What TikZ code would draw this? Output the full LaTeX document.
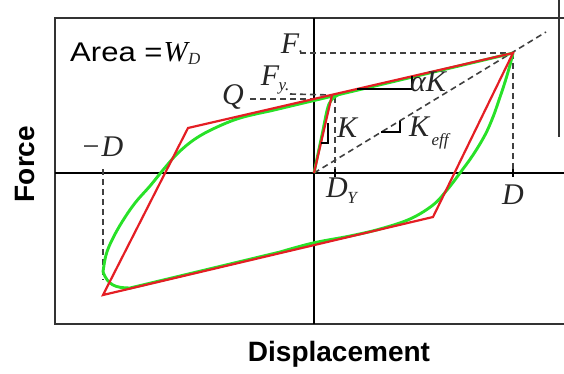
\documentclass[tikz,border=0pt]{standalone}
\usepackage{fontspec}
\usepackage{graphicx}
\setmainfont{Liberation Sans}
\newfontfamily\tms{Liberation Serif}
\definecolor{hred}{RGB}{228,30,36}
\definecolor{hgreen}{RGB}{40,225,40}
\begin{document}
\begin{tikzpicture}[x=1pt,y=-1pt,
  frame/.style={line width=2pt, draw=black!80},
  axis/.style={line width=1.4pt, draw=black},
  dsh/.style={line width=1.6pt, draw=black!75, dash pattern=on 6pt off 4pt},
  redl/.style={line width=2.2pt, draw=hred, line join=miter},
  greenl/.style={line width=2.9pt, draw=hgreen, line join=round},
  thin/.style={line width=1.3pt, draw=black},
  lab/.style={font=\fontsize{30}{30}\tms\itshape, inner sep=0pt, text=black!85},
  sub/.style={font=\fontsize{17}{17}\tms\itshape, inner sep=0pt, text=black!85},
  ttl/.style={font=\fontsize{28}{28}\selectfont\bfseries, inner sep=0pt}]
\useasboundingbox (0,0) rectangle (564,374);
% frame
\coordinate (TL) at (55,18);
\coordinate (TR) at (564,18);
\coordinate (BL) at (55,324);
\coordinate (BR) at (564,324);
\coordinate (RT) at (559,0);
\coordinate (RB) at (559,137);
\draw[frame] (TR) -- (TL) -- (BL) -- (BR);
\draw[frame] (RT) -- (RB);
% axes
\coordinate (O) at (314,173);
\coordinate (AT) at (314,18);
\coordinate (AB) at (314,324);
\coordinate (AL) at (55,173);
\coordinate (AR) at (564,173);
\draw[axis] (AT) -- (AB);
\draw[axis] (AL) -- (AR);
% key points
\coordinate (Y) at (332,95);
\coordinate (P) at (513,53);
\coordinate (R) at (433,217);
\coordinate (N) at (103,295);
\coordinate (L) at (188,128);
% dashed lines
\coordinate (Fs) at (300,53);
\coordinate (Dx) at (513,177);
\coordinate (DYt) at (335,97);
\coordinate (DYb) at (335,177);
\coordinate (mDt) at (103,169);
\coordinate (mDb) at (103,280);
\coordinate (Qs) at (250,99);
\coordinate (Qe) at (314,99);
\coordinate (Fys) at (290,94);
\coordinate (Ke) at (546,32);
\draw[dsh] (Fs) -- (P);
\draw[dsh] (P) -- (Dx);
\draw[dsh] (DYt) -- (DYb);
\draw[dsh] (mDt) -- (mDb);
\draw[dsh] (Qs) -- (Qe);
\draw[dsh] (Fys) -- (Y);
\draw[dsh] (O) -- (Ke);
% green smooth hysteresis
\draw[greenl] plot[smooth, tension=0.6] coordinates {(103,272) (106,255) (112,240) (122,222) (135,203) (150,186) (163,170) (178,153) (195,139) (215,128) (240,118) (270,111)} -- (505,55) -- (P);
\draw[greenl] plot[smooth, tension=0.6] coordinates {(P) (510,65) (505,82) (499,100) (493,117) (485,135) (473,155) (460,173) (447,190) (433,205) (410,219) (380,229) (350,236) (313,243) (280,252)} -- (130,288) .. controls (115,288) and (108,285) .. (103,272);
\draw[greenl] plot[smooth, tension=0.6] coordinates {(O) (322,135) (329,104) (338,95)};
% red bilinear
\draw[redl] (O) -- (Y);
\draw[redl] (N) -- (L) -- (P) -- (R) -- cycle;
% slope triangles
\coordinate (a1) at (357,89);
\coordinate (a2) at (412,89);
\coordinate (a3) at (412,76.5);
\draw[thin] (a1) -- (a2) -- (a3);
\coordinate (k1) at (321,143);
\coordinate (k2) at (328,143);
\coordinate (k3) at (328,123);
\draw[thin] (k1) -- (k2) -- (k3);
\coordinate (e1) at (381,132);
\coordinate (e2) at (400,132);
\coordinate (e3) at (400,121);
\draw[thin] (e1) -- (e2) -- (e3);
% ticks
\coordinate (t1) at (513,169);
\coordinate (t2) at (335,169);
\draw[thin] (t1) -- (Dx);
\draw[thin] (t2) -- (DYb);
% labels
\node[inner sep=0pt, anchor=west] (area) at (70,52) {\scalebox{1.15}[1]{\fontsize{27}{27}\selectfont Area =}\hspace{1pt}{\fontsize{29}{29}\tms\itshape W}};
\node[sub, anchor=west] (areasub) at (area.east) [yshift=-7pt] {D};
\node[lab] (Flab) at (290,44) {F};
\node[sub] (Fdot) at (301,52) {.};
\node[lab] (Fy) at (270,76) {F};
\node[sub] (Fysub) at (284,88) {y.};
\node[lab] (Qlab) at (233,97) {Q};
\node[lab] (mD) at (103,147) {{\upshape −}\hspace{2pt}D};
\node[lab] (DY) at (337,188) {D};
\node[sub] (DYsub) at (352,198) {Y};
\node[lab] (Dlab) at (513,195) {D};
\node[lab] (Klab) at (347,128) {K};
\node[lab] (Kef) at (419,127) {K};
\node[sub] (Kefsub) at (440,141) {eff};
\node[lab] (aK) at (428,82) {αK};
\node[ttl, rotate=90] (force) at (25,164) {Force};
\node[ttl] (disp) at (339,354) {Displacement};
\end{tikzpicture}
\end{document}
